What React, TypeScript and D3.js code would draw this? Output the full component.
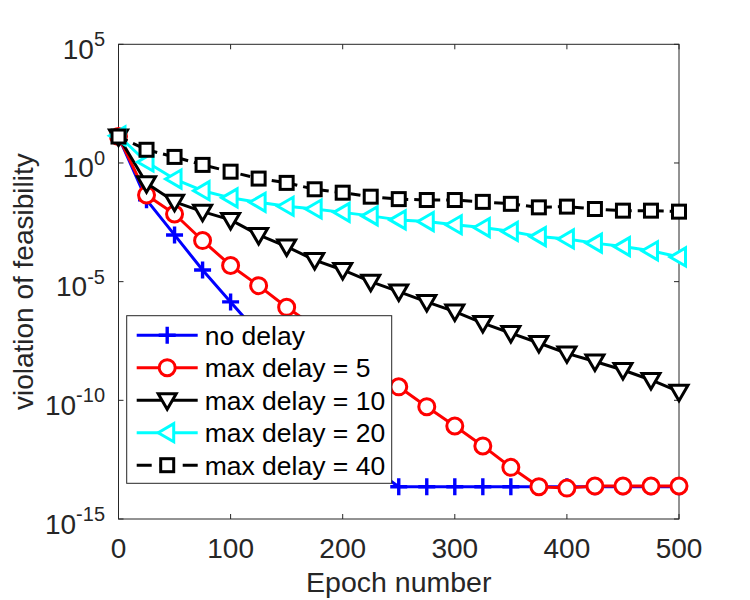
import React from 'react';
import * as d3 from 'd3';

const W = 750,
  H = 600;
const MARGIN = { top: 44.3, right: 71, bottom: 81, left: 118.5 };

// epochs where markers are drawn
const epochs = [0, 25, 50, 75, 100, 125, 150, 175, 200, 225, 250, 275, 300, 325, 350, 375, 400, 425, 450, 475, 500];

const noDelay = [
  1.3e1, 2.8e-2, 9.3e-4, 3.1e-5, 1.4e-6, 6.3e-8, 2.5e-9, 1e-10, 4e-12, 1.6e-13, 2.3e-14, 2.3e-14, 2.3e-14, 2.3e-14,
  2.3e-14, 2.3e-14, 2.3e-14, 2.3e-14, 2.3e-14, 2.3e-14, 2.3e-14,
];
const delay5 = [
  1.3e1, 4.5e-2, 7.1e-3, 5.4e-4, 4.8e-5, 6.8e-6, 8.3e-7, 1.3e-7, 2e-8, 2.5e-9, 3.7e-10, 5.4e-11, 8.3e-12, 1.2e-12,
  1.5e-13, 2.3e-14, 2.0e-14, 2.45e-14, 2.45e-14, 2.45e-14, 2.45e-14,
];
const delay10 = [
  1.3e1, 1.4e-1, 2.3e-2, 8.9e-3, 4.0e-3, 9.3e-4, 3.0e-4, 8.1e-5, 3.1e-5, 1.0e-5, 3.8e-6, 1.4e-6, 5.5e-7, 1.8e-7,
  6.8e-8, 2.6e-8, 9.5e-9, 4.3e-9, 1.9e-9, 7.2e-10, 2.3e-10,
];
const delay20 = [
  1.4e1, 1.1, 2.1e-1, 6.8e-2, 3.4e-2, 2.2e-2, 1.5e-2, 1.15e-2, 8.3e-3, 5.9e-3, 4.0e-3, 3.4e-3, 2.5e-3, 1.9e-3,
  1.3e-3, 7.9e-4, 6.3e-4, 4.2e-4, 3.0e-4, 2.0e-4, 1.1e-4,
];
const delay40 = [
  1.3e1, 3.6, 1.8, 8.3e-1, 4.3e-1, 2.2e-1, 1.45e-1, 7.8e-2, 5.6e-2, 3.8e-2, 3.0e-2, 2.75e-2, 2.75e-2, 2.3e-2,
  1.9e-2, 1.35e-2, 1.45e-2, 1.15e-2, 9.8e-3, 9.8e-3, 8.9e-3,
];

const seriesNames = ['no delay', 'max delay = 5', 'max delay = 10', 'max delay = 20', 'max delay = 40'];
const seriesValues = [noDelay, delay5, delay10, delay20, delay40];
const seriesColors = ['#0000ff', '#ff0000', '#000000', '#00ffff', '#000000'];
const seriesMarkers = ['plus', 'circle', 'triDown', 'triLeft', 'square'];
const seriesDash = [null, null, null, null, '10 6'];

const xTicks = [0, 100, 200, 300, 400, 500];
const yTickExps = [5, 0, -5, -10, -15];

const FONT = 'Liberation Sans, Arial, Helvetica, sans-serif';
const LW = 3;
const AXIS = '#262626';

const Marker = ({ type, x, y, color }) => {
  const common = { fill: 'white', stroke: color, strokeWidth: LW };
  if (type === 'plus')
    return (
      <path d={`M${x - 8.5},${y}H${x + 8.5}M${x},${y - 8.5}V${y + 8.5}`} stroke={color} strokeWidth={LW + 0.4} fill="none" />
    );
  if (type === 'circle') return <circle cx={x} cy={y} r={8} {...common} />;
  if (type === 'triDown')
    return <path d={`M${x - 9},${y - 6.5}L${x + 9},${y - 6.5}L${x},${y + 9}Z`} {...common} />;
  if (type === 'triLeft')
    return <path d={`M${x - 9},${y}L${x + 6.5},${y - 9}L${x + 6.5},${y + 9}Z`} {...common} />;
  return <rect x={x - 6.5} y={y - 6.5} width={13} height={13} {...common} />;
};

export default function App() {
  const boundsW = W - MARGIN.left - MARGIN.right;
  const boundsH = H - MARGIN.top - MARGIN.bottom;
  const x0 = MARGIN.left,
    x1 = MARGIN.left + boundsW,
    y0 = MARGIN.top,
    y1 = MARGIN.top + boundsH;

  const xScale = d3.scaleLinear().domain([0, 500]).range([x0, x1]);
  const yScale = d3.scaleLog().domain([1e-15, 1e5]).range([y1, y0]);

  const line = d3
    .line<[number, number]>()
    .x((d) => xScale(d[0]))
    .y((d) => yScale(d[1]));

  const series = seriesValues.map((vals, i) => (
    <g key={i}>
      <path
        d={line(epochs.map((e, j) => [e, vals[j]]))}
        fill="none"
        stroke={seriesColors[i]}
        strokeWidth={LW}
        strokeDasharray={seriesDash[i] || undefined}
        strokeLinejoin="round"
      />
      {epochs.map((e, j) => (
        <Marker key={j} type={seriesMarkers[i]} x={xScale(e)} y={yScale(vals[j])} color={seriesColors[i]} />
      ))}
    </g>
  ));

  // legend
  const lgX = 126.7,
    lgY = 315.7,
    lgW = 265,
    lgH = 167.6;
  const rowH = 32.5;
  const legend = (
    <g>
      <rect x={lgX} y={lgY} width={lgW} height={lgH} fill="white" stroke={AXIS} strokeWidth={1} />
      {seriesNames.map((name, i) => {
        const cy = lgY + 19.5 + i * rowH;
        return (
          <g key={i}>
            <line
              x1={lgX + 10}
              x2={lgX + 71}
              y1={cy}
              y2={cy}
              stroke={seriesColors[i]}
              strokeWidth={LW}
              strokeDasharray={seriesDash[i] ? '15 8' : undefined}
            />
            <Marker type={seriesMarkers[i]} x={lgX + 40.5} y={cy} color={seriesColors[i]} />
            <text x={lgX + 78} y={cy + 9.5} fontSize={26.5} fontFamily={FONT} fill="#000">
              {name}
            </text>
          </g>
        );
      })}
    </g>
  );

  return (
    <svg width={W} height={H} style={{ position: 'absolute', left: 0, top: 0, background: 'white' }}>
      <rect width={W} height={H} fill="white" />
      {/* axes box */}
      <rect x={x0} y={y0} width={boundsW} height={boundsH} fill="white" stroke={AXIS} strokeWidth={1} />
      {xTicks.map((t) => (
        <g key={t}>
          <line x1={xScale(t)} x2={xScale(t)} y1={y1} y2={y1 - 5} stroke={AXIS} />
          <line x1={xScale(t)} x2={xScale(t)} y1={y0} y2={y0 + 5} stroke={AXIS} />
          <text x={xScale(t)} y={y1 + 39} textAnchor="middle" fontSize={28} fontFamily={FONT} fill="#262626">
            {t}
          </text>
        </g>
      ))}
      {yTickExps.map((e) => {
        const y = yScale(Math.pow(10, e));
        return (
          <g key={e}>
            <line x1={x0} x2={x0 + 5} y1={y} y2={y} stroke={AXIS} />
            <line x1={x1} x2={x1 - 5} y1={y} y2={y} stroke={AXIS} />
            <text x={105} y={y + 14.5} textAnchor="end" fontSize={28} fontFamily={FONT} fill="#262626">
              10
              <tspan dy={-12.5} fontSize={20}>
                {e}
              </tspan>
            </text>
          </g>
        );
      })}
      {series}
      {legend}
      <text x={(x0 + x1) / 2} y={592} textAnchor="middle" fontSize={28.5} fontFamily={FONT} fill="#262626">
        Epoch number
      </text>
      <text
        transform={`translate(33,${(y0 + y1) / 2}) rotate(-90)`}
        textAnchor="middle"
        fontSize={28}
        fontFamily={FONT}
        fill="#262626"
      >
        violation of feasibility
      </text>
    </svg>
  );
}
